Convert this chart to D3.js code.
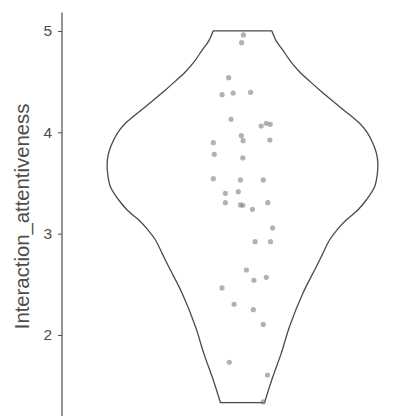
<!DOCTYPE html>
<html>
<head>
<meta charset="utf-8">
<script src="https://cdn.jsdelivr.net/npm/d3@7"></script>
<style>
  html, body { margin: 0; padding: 0; background: #ffffff; }
  svg { display: block; }
</style>
</head>
<body>
<svg id="chart" width="414" height="416"></svg>
<script>
// Observed scores (one point per respondent) and their horizontal jitter
const scores = [
  4.961, 4.885, 4.539, 4.371, 4.388, 4.395, 4.129, 4.062, 4.089, 4.079,
  3.967, 3.917, 3.924, 3.898, 3.783, 3.747, 3.542, 3.530, 3.530, 3.398,
  3.414, 3.306, 3.283, 3.280, 3.240, 3.306, 3.056, 2.921, 2.921, 2.641,
  2.540, 2.569, 2.464, 2.303, 2.250, 2.104, 1.731, 1.605, 1.339
];
const jitter = [
  0.003, -0.003, -0.046, -0.068, -0.031, 0.027, -0.038, 0.062, 0.079, 0.092,
  -0.004, 0.002, 0.091, -0.097, -0.094, 0.001, -0.097, -0.007, 0.069, -0.057,
  -0.014, -0.057, -0.007, 0.001, 0.033, 0.084, 0.100, 0.042, 0.093, 0.013,
  0.038, 0.079, -0.068, -0.028, 0.036, 0.069, -0.044, 0.083, 0.069
];

// Kernel density profile of the scores (scaled so the widest point = 1)
const densityLevels = [
  5.000, 4.900, 4.812, 4.700, 4.598, 4.500, 4.418, 4.253, 4.089, 3.990,
  3.891, 3.790, 3.694, 3.580, 3.463, 3.332, 3.233, 3.134, 3.040, 2.937,
  2.800, 2.673, 2.411, 2.081, 1.818, 1.587, 1.333
];
const densityWidths = [
  0.217, 0.250, 0.298, 0.355, 0.421, 0.500, 0.569, 0.717, 0.865, 0.925,
  0.963, 0.990, 1.000, 0.995, 0.976, 0.914, 0.852, 0.766, 0.700, 0.643,
  0.592, 0.545, 0.446, 0.347, 0.286, 0.224, 0.163
];

const categories = ["Interaction_attentiveness"];
const yTicks = [2, 3, 4, 5];
const yTitle = "Interaction_attentiveness";

const svg = d3.select("#chart");

const panel = { left: 62, right: 423, top: 12.4, bottom: 421.1 };

// Discrete x position 1 with 0.6 units of padding on both sides
const x = d3.scaleLinear().domain([0.4, 1.6]).range([panel.left, panel.right]);
const y = d3.scaleLinear().domain([1.15, 5.1833]).range([panel.bottom, panel.top]);

const violinHalf = 0.45; // violin spans 0.9 units at its widest
const cx = 1;

const profile = densityLevels.map((v, i) => ({ v, w: densityWidths[i] }));

const area = d3.area()
  .y(d => y(d.v))
  .x0(d => x(cx - d.w * violinHalf))
  .x1(d => x(cx + d.w * violinHalf))
  .curve(d3.curveCatmullRom.alpha(0.5));

svg.append("path")
  .datum(profile)
  .attr("d", area)
  .attr("fill", "#ffffff")
  .attr("stroke", "#4a4a4a")
  .attr("stroke-width", 1.3)
  .attr("stroke-linejoin", "round");

// Jittered points
svg.append("g")
  .selectAll("circle")
  .data(scores.map((s, i) => ({ s, j: jitter[i] })))
  .join("circle")
  .attr("cx", d => x(cx + d.j))
  .attr("cy", d => y(d.s))
  .attr("r", 2.6)
  .attr("fill", "#7f7f7f")
  .attr("fill-opacity", 0.6);

// Y axis
const yAxis = d3.axisLeft(y).tickValues(yTicks).tickSize(4).tickPadding(6)
  .tickFormat(d3.format("d"));
const gy = svg.append("g")
  .attr("transform", `translate(${panel.left},0)`)
  .call(yAxis);
gy.select(".domain")
  .attr("d", `M0,${panel.top}V${panel.bottom}`)
  .attr("stroke", "#5a5a5a")
  .attr("stroke-width", 1.3);
gy.selectAll(".tick line").attr("stroke", "#5a5a5a").attr("stroke-width", 1.1);
gy.selectAll(".tick text")
  .attr("fill", "#4d4d4d")
  .attr("font-family", "'Liberation Sans', Arial, sans-serif")
  .attr("font-size", 15.5);

// Y axis title
svg.append("text")
  .attr("transform", `translate(28.5,${(y(5) + y(2)) / 2 + 33.5}) rotate(-90)`)
  .attr("text-anchor", "middle")
  .attr("fill", "#4d4d4d")
  .attr("font-family", "'Liberation Sans', Arial, sans-serif")
  .attr("font-size", 20.3)
  .text(yTitle);
</script>
</body>
</html>
